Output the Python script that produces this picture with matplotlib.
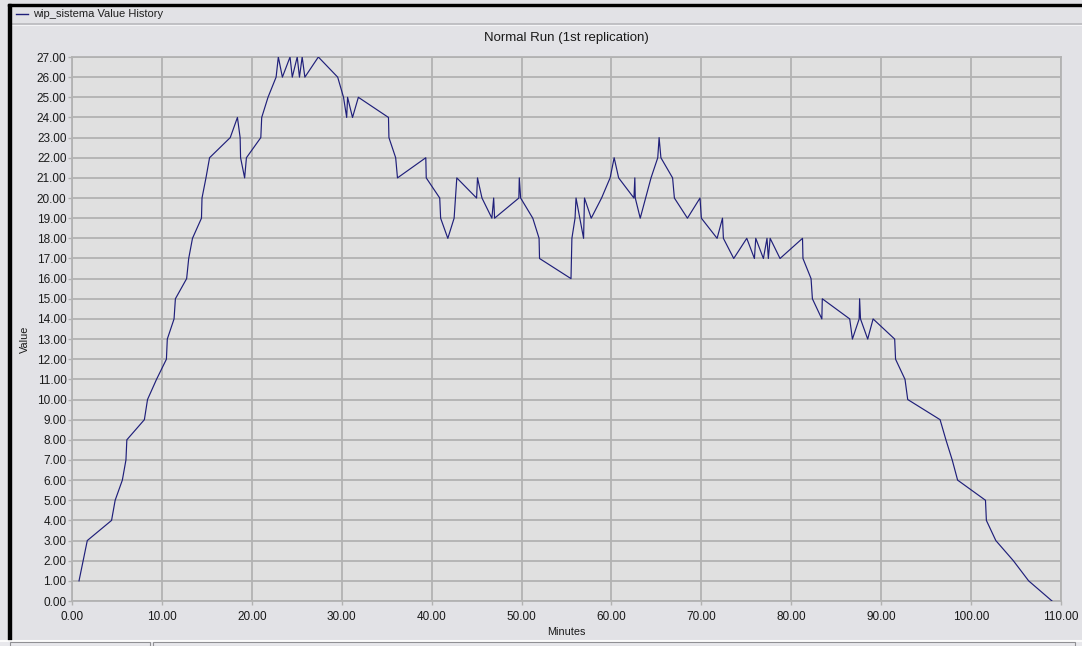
import matplotlib
matplotlib.use("Agg")
import matplotlib.pyplot as plt
from matplotlib.patches import Rectangle
from matplotlib.lines import Line2D

plt.rcParams['font.family'] = ['Liberation Sans', 'DejaVu Sans']

# wip_sistema value history (minutes, value)
minutes = [0.78, 1.7, 4.4, 4.8, 5.6, 6.0, 6.1, 8.05, 8.4, 9.4, 10.5, 10.6, 11.35, 11.5,
           12.75, 12.98, 13.4, 14.4, 14.46, 14.9, 15.3, 17.6, 18.4, 18.7, 18.75, 19.2, 19.4,
           21.0, 21.1, 21.8, 22.7, 22.95, 23.4, 24.25, 24.5, 25.05, 25.3, 25.6, 25.9, 27.4,
           29.55, 30.2, 30.55, 30.65, 31.2, 31.85, 35.2, 35.25, 36.0, 36.2, 39.35, 39.4,
           40.9, 41.0, 41.8, 42.5, 42.8, 45.0, 45.1, 45.6, 46.7, 46.9, 47.0, 49.7, 49.75,
           49.9, 51.25, 51.95, 52.0, 55.5, 55.6, 55.95, 56.06, 56.9, 57.0, 57.75, 58.9,
           59.85, 60.3, 60.8, 62.5, 62.6, 62.65, 63.2, 64.4, 65.15, 65.3, 65.5, 66.8, 67.0,
           68.45, 69.85, 70.0, 71.75, 72.35, 72.45, 73.6, 75.05, 75.9, 76.05, 76.9, 77.3,
           77.45, 77.65, 78.75, 81.25, 81.3, 82.2, 82.35, 83.4, 83.45, 86.5, 86.8, 87.55,
           87.6, 87.7, 88.5, 89.1, 91.5, 91.6, 92.65, 92.95, 96.55, 97.2, 97.9, 98.5,
           101.6, 101.7, 102.75, 104.7, 106.4, 109.0]
values = [1, 3, 4, 5, 6, 7, 8, 9, 10, 11, 12, 13, 14, 15,
          16, 17, 18, 19, 20, 21, 22, 23, 24, 23, 22, 21, 22,
          23, 24, 25, 26, 27, 26, 27, 26, 27, 26, 27, 26, 27,
          26, 25, 24, 25, 24, 25, 24, 23, 22, 21, 22, 21,
          20, 19, 18, 19, 21, 20, 21, 20, 19, 20, 19, 20, 21,
          20, 19, 18, 17, 16, 18, 19, 20, 18, 20, 19, 20,
          21, 22, 21, 20, 21, 20, 19, 21, 22, 23, 22, 21, 20,
          19, 20, 19, 18, 19, 18, 17, 18, 17, 18, 17, 18,
          17, 18, 17, 18, 17, 16, 15, 14, 15, 14, 13, 14,
          15, 14, 13, 14, 13, 12, 11, 10, 9, 8, 7, 6,
          5, 4, 3, 2, 1, 0]

x_ticks = list(range(0, 111, 10))
y_ticks = list(range(0, 28))

W, H = 1082, 646
fig = plt.figure(figsize=(W / 100, H / 100), dpi=100)
fig.patch.set_facecolor('#e2e2e6')

def fx(px):
    return px / W

def fy(py):
    return 1 - py / H

# window chrome
fig.patches.append(Rectangle((fx(8), fy(640)), fx(3), 640 / H - 4 / H,
                             transform=fig.transFigure, color='black', zorder=5))
fig.patches.append(Rectangle((fx(8), fy(6)), 1, 2 / H,
                             transform=fig.transFigure, color='black', zorder=5))
fig.add_artist(Line2D([fx(11), 1], [fy(24), fy(24)], transform=fig.transFigure,
                      color='#b8b8bc', lw=1.2))
fig.add_artist(Line2D([fx(11), 1], [fy(25), fy(25)], transform=fig.transFigure,
                      color='#f4f4f6', lw=0.8))
fig.add_artist(Line2D([fx(16), fx(28)], [fy(14), fy(14)], transform=fig.transFigure,
                      color='#1f1f7a', lw=1.0))
fig.text(fx(33), fy(14), 'wip_sistema Value History', fontsize=8,
         va='center', ha='left', color='#202020')

# status bar
fig.patches.append(Rectangle((0, 0), 1, 6 / H, transform=fig.transFigure,
                             color='#e8e8ec', zorder=4))
fig.add_artist(Line2D([0, 1], [fy(640.5), fy(640.5)], transform=fig.transFigure,
                      color='white', lw=1.2, zorder=6))
for x0, x1 in [(10, 150), (153, 1075)]:
    fig.patches.append(Rectangle((fx(x0), 0), fx(x1 - x0), 4 / H,
                                 transform=fig.transFigure, facecolor='none',
                                 edgecolor='#909094', lw=0.8, zorder=6))

ax = fig.add_axes([fx(72), fy(601), fx(1061 - 72), (601 - 57) / H])
ax.set_facecolor('#e0e0e0')
ax.plot(minutes, values, color='#1f1f7a', lw=0.85, zorder=3)

ax.set_xlim(0, 110)
ax.set_ylim(0, 27)
ax.set_xticks(x_ticks)
ax.set_xticklabels([f'{v:.2f}' for v in x_ticks])
ax.set_yticks(y_ticks)
ax.set_yticklabels([f'{v:.2f}' for v in y_ticks])
ax.grid(True, color='#b2b2b2', lw=1.3)
ax.set_axisbelow(True)
for s in ax.spines.values():
    s.set_color('#b2b2b2')
    s.set_linewidth(1.3)
ax.tick_params(axis='both', colors='#b2b2b2', labelcolor='#1a1a1a',
               labelsize=8.5, length=3, width=1)
ax.tick_params(axis='x', pad=4)
ax.tick_params(axis='y', pad=1)

fig.text(fx(566), fy(38), 'Normal Run (1st replication)', fontsize=9.5,
         ha='center', va='center', color='#1a1a1a')
fig.text(fx(566), fy(632), 'Minutes', fontsize=7.8, ha='center', va='center',
         color='#1a1a1a')
fig.text(fx(25), fy(339), 'Value', fontsize=7.8, ha='center', va='center',
         rotation=90, color='#1a1a1a')

fig.savefig('out.png', dpi=100, facecolor=fig.get_facecolor())
